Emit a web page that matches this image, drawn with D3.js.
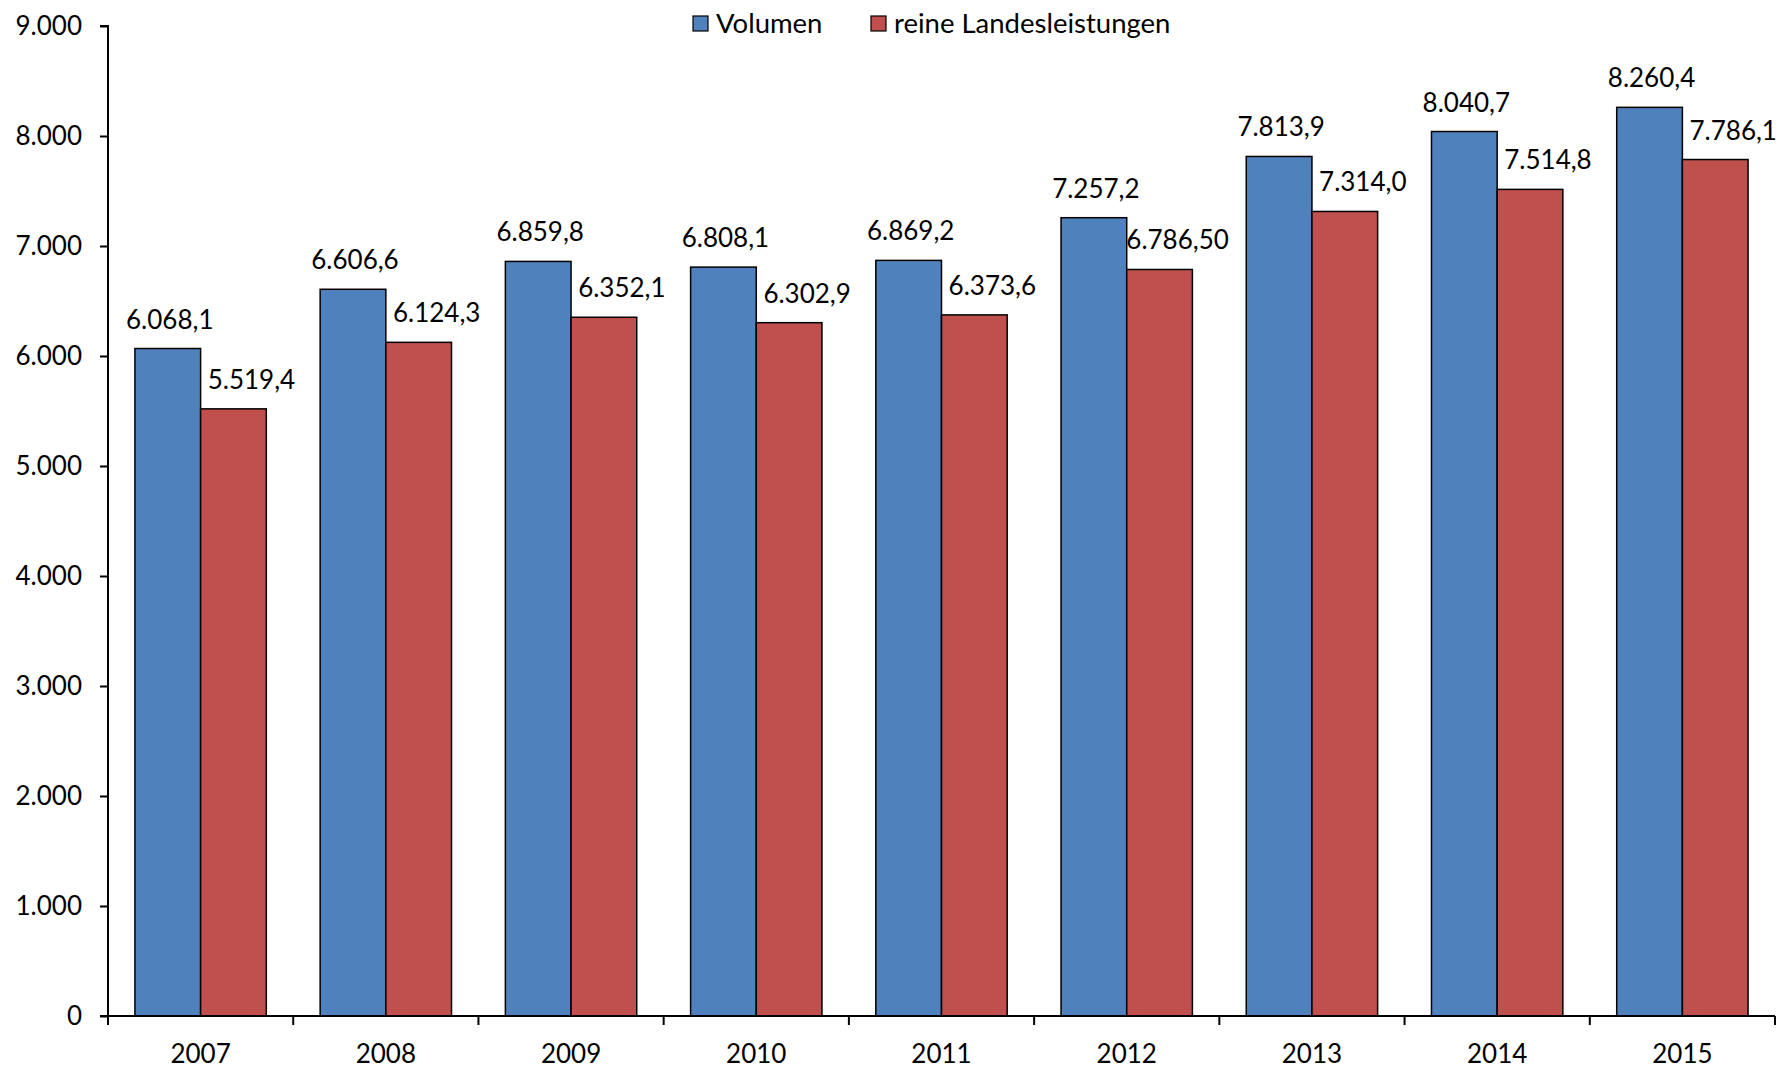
<!DOCTYPE html>
<html>
<head>
<meta charset="utf-8">
<script src="https://cdn.jsdelivr.net/npm/d3@7"></script>
<style>
  body { margin: 0; background: #fff; }
  text { font-family: Lato, "Open Sans", sans-serif; fill: #000; }
</style>
</head>
<body>
<script>
'use strict';

// chart data
const years = ['2007', '2008', '2009', '2010', '2011', '2012', '2013', '2014', '2015'];
const seriesNames = ['Volumen', 'reine Landesleistungen'];
const volumen = [6068.1, 6606.6, 6859.8, 6808.1, 6869.2, 7257.2, 7813.9, 8040.7, 8260.4];
const landes = [5519.4, 6124.3, 6352.1, 6302.9, 6373.6, 6786.5, 7314.0, 7514.8, 7786.1];
const volumenLabels = ['6.068,1', '6.606,6', '6.859,8', '6.808,1', '6.869,2', '7.257,2', '7.813,9', '8.040,7', '8.260,4'];
const landesLabels = ['5.519,4', '6.124,3', '6.352,1', '6.302,9', '6.373,6', '6.786,50', '7.314,0', '7.514,8', '7.786,1'];
const yTicks = [0, 1000, 2000, 3000, 4000, 5000, 6000, 7000, 8000, 9000];
const yTickLabels = ['0', '1.000', '2.000', '3.000', '4.000', '5.000', '6.000', '7.000', '8.000', '9.000'];

const colors = ['#4F81BD', '#C0504D'];

const W = 1785, H = 1068;
const margin = { top: 26, right: 10, bottom: 52, left: 108 };
const fontSize = '26px';

const svg = d3.select('body').append('svg')
  .attr('width', W)
  .attr('height', H);

// scales
const x0 = d3.scaleBand()
  .domain(years)
  .range([margin.left, W - margin.right])
  .padding(0);

const x1 = d3.scaleBand()
  .domain(seriesNames)
  .range([0, x0.bandwidth()])
  .paddingInner(0)
  .paddingOuter(0.41);

const y = d3.scaleLinear()
  .domain([0, 9000])
  .range([H - margin.bottom, margin.top]);

// table of rows for bars
const rows = [];
years.forEach((yr, i) => {
  rows.push({ year: yr, s: seriesNames[0], v: volumen[i], label: volumenLabels[i], c: colors[0], dx: 2 });
  rows.push({ year: yr, s: seriesNames[1], v: landes[i], label: landesLabels[i], c: colors[1], dx: 18 });
});

// bars
svg.selectAll('.bar')
  .data(rows)
  .enter()
  .append('rect')
    .attr('class', 'bar')
    .attr('x', d => x0(d.year) + x1(d.s))
    .attr('y', d => y(d.v))
    .attr('width', x1.bandwidth())
    .attr('height', d => y(0) - y(d.v))
    .attr('fill', d => d.c)
    .attr('stroke', '#000')
    .attr('stroke-width', 1.5);

// value labels
svg.selectAll('.val')
  .data(rows)
  .enter()
  .append('text')
    .attr('class', 'val')
    .attr('x', d => x0(d.year) + x1(d.s) + x1.bandwidth() / 2 + d.dx)
    .attr('y', d => y(d.v) - 20)
    .attr('text-anchor', 'middle')
    .style('font-size', fontSize)
    .text(d => d.label);

// y axis
const yAxis = d3.axisLeft(y)
  .tickValues(yTicks)
  .tickFormat((d, i) => yTickLabels[i])
  .tickSize(8)
  .tickPadding(18);

const gy = svg.append('g')
  .attr('transform', `translate(${margin.left}, 0)`)
  .call(yAxis);
gy.select('.domain').attr('stroke', '#000').attr('stroke-width', 2)
  .attr('d', `M-8,${y(9000)}H0V${y(0)}`);
gy.selectAll('.tick line').attr('stroke', '#000').attr('stroke-width', 2);
gy.selectAll('.tick text')
  .style('font-family', 'Lato, "Open Sans", sans-serif')
  .style('font-size', fontSize)
  .attr('fill', '#000');

// x axis, ticks on category boundaries
const gx = svg.append('g')
  .attr('transform', `translate(0, ${y(0)})`);
gx.append('line')
  .attr('x1', margin.left - 8)
  .attr('x2', W - margin.right)
  .attr('stroke', '#000')
  .attr('stroke-width', 2);
const bounds = years.map(d => x0(d)).concat([x0(years[years.length - 1]) + x0.bandwidth()]);
gx.selectAll('.xt')
  .data(bounds)
  .enter()
  .append('line')
    .attr('x1', d => d)
    .attr('x2', d => d)
    .attr('y1', 0)
    .attr('y2', 9)
    .attr('stroke', '#000')
    .attr('stroke-width', 2);
gx.selectAll('.xl')
  .data(years)
  .enter()
  .append('text')
    .attr('x', d => x0(d) + x0.bandwidth() / 2)
    .attr('y', 47)
    .attr('text-anchor', 'middle')
    .style('font-size', fontSize)
    .text(d => d);

// legend
const legendX = [693, 871];
const legend = svg.selectAll('.leg')
  .data(seriesNames)
  .enter()
  .append('g')
    .attr('transform', (d, i) => `translate(${legendX[i]}, 16)`);
legend.append('rect')
  .attr('width', 15)
  .attr('height', 15)
  .attr('fill', (d, i) => colors[i])
  .attr('stroke', '#000')
  .attr('stroke-width', 1.2);
legend.append('text')
  .attr('x', 23)
  .attr('y', 17)
  .style('font-size', '27.5px')
  .text(d => d);
</script>
</body>
</html>
